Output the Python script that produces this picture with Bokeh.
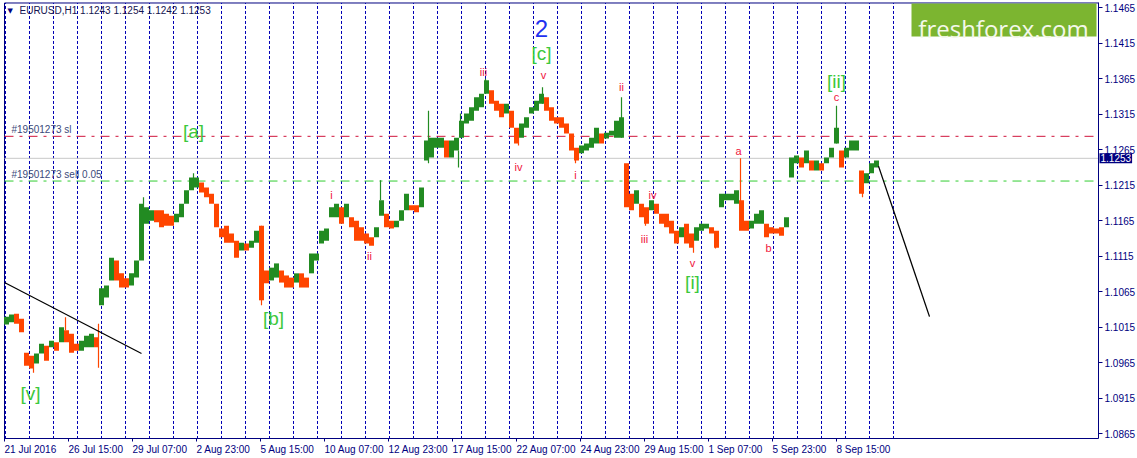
import bisect
import datetime as dt

from bokeh.core.properties import value
from bokeh.embed import file_html
from bokeh.models import (BoxAnnotation, ColumnDataSource, FixedTicker, Label,
                          Range1d)
from bokeh.plotting import figure
from bokeh.resources import INLINE

# ---------------------------------------------------------------- data
symbol = "EURUSD,H1"
last_ohlc = ["1.1243", "1.1254", "1.1242", "1.1253"]
first_bar_time = dt.datetime(2016, 7, 21, 23, 0)
calendar_bars = 890          # hourly bars shown incl. the empty right shift

# price band read every 5 hourly bars, first sample at bar 2
sample_start = 2
sample_step = 5
band_high = [
    1.1030, 1.1033, 1.1034, 1.1027, 1.0979, 1.0975, 1.0978, 1.0992, 1.0989, 1.0996,
    1.0994, 1.1015, 1.1011, 1.1006, 1.0992, 1.0996, 1.1003, 1.1006, 1.1001, 1.1070,
    1.1074, 1.1113, 1.1109, 1.1091, 1.1084, 1.1091, 1.1109, 1.1189, 1.1184, 1.1180,
    1.1180, 1.1180, 1.1175, 1.1172, 1.1175, 1.1189, 1.1208, 1.1226, 1.1226, 1.1219,
    1.1212, 1.1203, 1.1189, 1.1154, 1.1158, 1.1147, 1.1137, 1.1134, 1.1133, 1.1137,
    1.1151, 1.1158, 1.1095, 1.1099, 1.1105, 1.1095, 1.1088, 1.1085, 1.1091, 1.1091,
    1.1085, 1.1119, 1.1119, 1.1151, 1.1154, 1.1184, 1.1189, 1.1184, 1.1189, 1.1170,
    1.1165, 1.1156, 1.1147, 1.1142, 1.1156, 1.1194, 1.1175, 1.1165, 1.1165, 1.1180,
    1.1203, 1.1187, 1.1187, 1.1212, 1.1278, 1.1282, 1.1282, 1.1282, 1.1278, 1.1278,
    1.1282, 1.1306, 1.1316, 1.1325, 1.1339, 1.1344, 1.1363, 1.1349, 1.1334, 1.1330,
    1.1330, 1.1320, 1.1296, 1.1302, 1.1311, 1.1325, 1.1334, 1.1344, 1.1339, 1.1325,
    1.1311, 1.1311, 1.1302, 1.1288, 1.1268, 1.1271, 1.1274, 1.1282, 1.1296, 1.1288,
    1.1289, 1.1292, 1.1306, 1.1311, 1.1246, 1.1203, 1.1208, 1.1189, 1.1184, 1.1194,
    1.1189, 1.1175, 1.1175, 1.1165, 1.1151, 1.1156, 1.1161, 1.1147, 1.1156, 1.1161,
    1.1161, 1.1156, 1.1151, 1.1203, 1.1203, 1.1203, 1.1208, 1.1194, 1.1165, 1.1165,
    1.1175, 1.1180, 1.1161, 1.1156, 1.1154, 1.1156, 1.1170, 1.1254, 1.1257, 1.1254,
    1.1264, 1.1250, 1.1250, 1.1246, 1.1254, 1.1268, 1.1296, 1.1264, 1.1268, 1.1278,
    1.1278, 1.1236, 1.1232, 1.1246, 1.1250,
]
band_low = [
    1.1019, 1.1022, 1.1020, 1.1008, 1.0961, 1.0957, 1.0964, 1.0978, 1.0968, 1.0987,
    1.0982, 1.0994, 1.0994, 1.0979, 1.0982, 1.0982, 1.0987, 1.0987, 1.0987, 1.1046,
    1.1057, 1.1081, 1.1081, 1.1071, 1.1071, 1.1074, 1.1085, 1.1109, 1.1161, 1.1165,
    1.1163, 1.1156, 1.1158, 1.1158, 1.1163, 1.1170, 1.1189, 1.1208, 1.1212, 1.1205,
    1.1198, 1.1189, 1.1156, 1.1142, 1.1134, 1.1134, 1.1113, 1.1123, 1.1123, 1.1127,
    1.1134, 1.1053, 1.1077, 1.1081, 1.1085, 1.1078, 1.1071, 1.1071, 1.1078, 1.1071,
    1.1071, 1.1091, 1.1109, 1.1133, 1.1137, 1.1170, 1.1170, 1.1161, 1.1170, 1.1156,
    1.1137, 1.1137, 1.1133, 1.1130, 1.1142, 1.1172, 1.1156, 1.1154, 1.1156, 1.1165,
    1.1180, 1.1180, 1.1177, 1.1184, 1.1250, 1.1254, 1.1268, 1.1268, 1.1254, 1.1254,
    1.1264, 1.1282, 1.1302, 1.1306, 1.1320, 1.1325, 1.1344, 1.1330, 1.1320, 1.1311,
    1.1316, 1.1296, 1.1274, 1.1282, 1.1296, 1.1316, 1.1320, 1.1330, 1.1320, 1.1306,
    1.1302, 1.1296, 1.1288, 1.1264, 1.1250, 1.1260, 1.1264, 1.1268, 1.1274, 1.1274,
    1.1281, 1.1285, 1.1282, 1.1282, 1.1184, 1.1180, 1.1189, 1.1170, 1.1161, 1.1180,
    1.1175, 1.1161, 1.1156, 1.1147, 1.1133, 1.1142, 1.1133, 1.1127, 1.1137, 1.1151,
    1.1154, 1.1147, 1.1127, 1.1184, 1.1194, 1.1194, 1.1189, 1.1151, 1.1151, 1.1154,
    1.1161, 1.1161, 1.1142, 1.1147, 1.1147, 1.1144, 1.1156, 1.1226, 1.1246, 1.1240,
    1.1246, 1.1236, 1.1236, 1.1236, 1.1246, 1.1254, 1.1274, 1.1240, 1.1254, 1.1264,
    1.1264, 1.1203, 1.1218, 1.1232, 1.1240,
]

# single-bar spikes (wicks) that stick out of the band
spike_bar = [29, 61, 94, 139, 189, 257, 376, 424, 454, 456, 481, 514, 538,
             571, 617, 641, 689, 711, 736, 832, 858]
spike_high = [1.0964, 1.1029, 1.1020, 1.1198, 1.1232, 1.1158, 1.1222, 1.1320,
              1.1264, 1.1316, 1.1365, 1.1282, 1.1353, 1.1260, 1.1339, 1.1170,
              1.1137, 1.1137, 1.1253, 1.1327, 1.1210]
spike_low = [1.0951, 1.1011, 1.0958, 1.1180, 1.1222, 1.1046, 1.1194, 1.1246,
             1.1240, 1.1282, 1.1344, 1.1271, 1.1330, 1.1246, 1.1282, 1.1158,
             1.1120, 1.1126, 1.1189, 1.1274, 1.1198]

x_tick_labels = ["21 Jul 2016", "26 Jul 15:00", "29 Jul 07:00", "2 Aug 23:00",
                 "5 Aug 15:00", "10 Aug 07:00", "12 Aug 23:00", "17 Aug 15:00",
                 "22 Aug 07:00", "24 Aug 23:00", "29 Aug 15:00", "1 Sep 07:00",
                 "5 Sep 23:00", "8 Sep 15:00"]
y_tick_labels = ["1.0865", "1.0915", "1.0965", "1.1015", "1.1065", "1.1115",
                 "1.1165", "1.1215", "1.1265", "1.1315", "1.1365", "1.1415",
                 "1.1465"]

order_id = "#19501273"
sl_price = 1.1284
entry_price = 1.1221
last_price = 1.1253

trend_bars = [0, 137]
trend_prices = [1.1078, 1.0978]
proj_bars = [874, 925]
proj_prices = [1.1242, 1.1030]

major_text = ["[v]", "[a]", "[b]", "[c]", "[i]", "[ii]"]
major_bar = [26, 189, 269, 537, 688, 832]
major_price = [1.0922, 1.1291, 1.1027, 1.1401, 1.1078, 1.1361]

degree_text = ["2"]
degree_bar = [537]
degree_price = [1.1436]

minor_text = ["i", "ii", "iii", "iv", "v", "i", "ii", "iii", "iv", "v",
              "a", "b", "c"]
minor_bar = [327, 365, 479, 514, 539, 571, 617, 640, 648, 688, 734, 764, 832]
minor_price = [1.1202, 1.1116, 1.1375, 1.1241, 1.1370, 1.1230, 1.1354, 1.1139,
               1.1201, 1.1105, 1.1264, 1.1127, 1.1340]

# ---------------------------------------------------------------- calendar
bar_times = []
t = first_bar_time
while len(bar_times) < calendar_bars:
    if t.weekday() < 5:
        bar_times.append(t)
    t += dt.timedelta(hours=1)
separators = [i for i, bt in enumerate(bar_times) if bt.hour == 0]


def label_time(s):
    try:
        return dt.datetime.strptime(s, "%d %b %Y")
    except ValueError:
        return dt.datetime.strptime("2016 " + s, "%Y %d %b %H:%M")


tick_pos = [bisect.bisect_left(bar_times, label_time(s)) for s in x_tick_labels]

# ---------------------------------------------------------------- layout / styles
W, H = 1137, 458
X0, X1 = -4.0, 1133.0          # frame spans the whole canvas; scales sit inside
Y0, Y1 = 1.08302, 1.14753
AXIS_X = 1094                  # bar position of the price scale line
AXIS_Y = 1.08577               # price level of the time scale line
TOP_Y = 1.14718                # chart frame top
LEFT_X = 0
NAVY = "#000080"
SEP = "#0000B4"
UP = "#228B22"
DOWN = "#FF4500"
FONT = "Liberation Sans"

sample_x = [sample_start + sample_step * k for k in range(len(band_high))]
mids = [(h + l) / 2 for h, l in zip(band_high, band_low)]
colors = [UP] + [UP if mids[i] >= mids[i - 1] else DOWN for i in range(1, len(mids))]
spike_colors = [colors[min(len(colors) - 1, max(0, round((b - sample_start) / sample_step)))]
                for b in spike_bar]

p = figure(width=W, height=H, x_range=Range1d(X0, X1), y_range=Range1d(Y0, Y1),
           output_backend="svg", toolbar_location=None, y_axis_location="right",
           title=None, min_border=0)
p.background_fill_color = "white"
p.border_fill_color = "white"
p.outline_line_color = None
p.xgrid.visible = False
p.ygrid.visible = False

for ax in (p.xaxis[0], p.yaxis[0]):
    ax.axis_line_color = NAVY
    ax.major_tick_line_color = NAVY
    ax.minor_tick_line_color = None
    ax.major_tick_in = 0
    ax.major_label_text_color = NAVY
    ax.major_label_text_font = FONT
    ax.major_label_text_font_size = "10px"

p.xaxis.ticker = FixedTicker(ticks=tick_pos)
p.xaxis.major_label_overrides = {pos: s for pos, s in zip(tick_pos, x_tick_labels)}
p.xaxis.major_label_orientation = -0.0001     # left-aligned labels, MT4 style
p.xaxis.major_tick_out = 3
p.xaxis.major_label_standoff = 8
p.xaxis.fixed_location = AXIS_Y
p.xaxis.bounds = (LEFT_X, AXIS_X)

y_ticks = [float(s) for s in y_tick_labels]
p.yaxis.ticker = FixedTicker(ticks=y_ticks)
p.yaxis.major_label_overrides = {v: s for v, s in zip(y_ticks, y_tick_labels)}
p.yaxis.major_tick_out = 4
p.yaxis.major_label_standoff = 2
p.yaxis.fixed_location = AXIS_X
p.yaxis.bounds = (AXIS_Y, TOP_Y)

# chart frame (left + top)
p.segment(x0=[LEFT_X], y0=[AXIS_Y], x1=[LEFT_X], y1=[TOP_Y], line_color=NAVY,
          line_width=1)
p.segment(x0=[LEFT_X], y0=[TOP_Y], x1=[AXIS_X], y1=[TOP_Y], line_color=NAVY,
          line_width=1)

# daily period separators
p.segment(x0=separators, y0=AXIS_Y, x1=separators, y1=TOP_Y, line_color=SEP,
          line_width=1, line_dash="3 2")

# order lines (stop at the price scale)
p.segment(x0=[LEFT_X], y0=[sl_price], x1=[AXIS_X], y1=[sl_price],
          line_color="#D0143C", line_width=1, line_dash="9 6 3 6")
p.segment(x0=[LEFT_X], y0=[last_price], x1=[AXIS_X], y1=[last_price],
          line_color="#C8C8C8", line_width=1)
p.segment(x0=[LEFT_X], y0=[entry_price], x1=[AXIS_X], y1=[entry_price],
          line_color="#32CD32", line_width=1, line_dash="9 6 3 6")

# price band (candles)
src = ColumnDataSource(dict(x=sample_x, hi=band_high, lo=band_low, c=colors))
p.vbar(x="x", width=5, top="hi", bottom="lo", fill_color="c", line_color=None,
       source=src)
p.segment(x0=spike_bar, y0=spike_low, x1=spike_bar, y1=spike_high,
          line_color=spike_colors, line_width=1.2)

# hand-drawn lines
p.line(trend_bars, trend_prices, line_color="black", line_width=1.2)
p.line(proj_bars, proj_prices, line_color="black", line_width=1.3)

# order texts
p.add_layout(Label(x=7, y=1.1294, text=f"{order_id} sl", text_font=FONT,
                   text_font_size="10px", text_color="#3C4A7A",
                   text_baseline="middle"))
p.add_layout(Label(x=7, y=1.1230, text=f"{order_id} sell 0.05", text_font=FONT,
                   text_font_size="10px", text_color="#3C4A7A",
                   text_baseline="middle"))

# header
p.add_layout(Label(x=3, y=1.1461, text="\u25bc", text_font="DejaVu Sans",
                   text_font_size="7px", text_color=NAVY, text_baseline="middle"))
p.add_layout(Label(x=15, y=1.1461, text=f"{symbol}  " + " ".join(last_ohlc),
                   text_font=FONT, text_font_size="10px", text_color="#141450",
                   text_baseline="middle"))

# wave labels
p.text(x=major_bar, y=major_price, text=major_text, text_font=value(FONT),
       text_font_size="19px", text_color="#3CC83C", text_align="center",
       text_baseline="middle")
p.text(x=degree_bar, y=degree_price, text=degree_text, text_font=value(FONT),
       text_font_size="24px", text_color="#1E32F0", text_align="center",
       text_baseline="middle")
p.text(x=minor_bar, y=minor_price, text=minor_text, text_font=value(FONT),
       text_font_size="11px", text_color="#F0143C", text_align="center",
       text_baseline="middle")

# logo
p.add_layout(BoxAnnotation(left=907, right=1092, top=1.14711, bottom=1.14246,
                           fill_color="#7CB530", fill_alpha=1.0, line_color=None))
p.add_layout(Label(x=999, y=1.1436, text="freshforex.com", text_font="Open Sans",
                   text_font_size="24px", text_color="#F4F8EA", text_align="center",
                   text_baseline="alphabetic"))

# current price tag on the price scale
p.add_layout(Label(x=AXIS_X + 1, y=last_price, text=f"{last_price:.4f}",
                   text_font=FONT, text_font_size="10px", text_color="white",
                   text_align="left", text_baseline="middle",
                   background_fill_color=NAVY, background_fill_alpha=1.0, padding=1))

open("out.html", "w").write(file_html(p, INLINE))
